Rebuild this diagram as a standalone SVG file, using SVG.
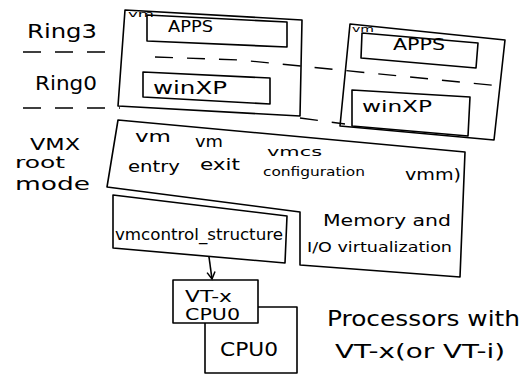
<svg xmlns="http://www.w3.org/2000/svg" width="523" height="378" viewBox="0 0 523 378">
<style>
.box{fill:none;stroke:#000;stroke-width:1.6;stroke-linejoin:round}
.sep{fill:none;stroke:#000;stroke-width:1.4;stroke-dasharray:18 14}
.t{font-family:"DejaVu Sans","Liberation Sans",sans-serif;fill:#000}
.conn{fill:none;stroke:#000;stroke-width:1.6}
</style>
<defs>
<marker id="arr" markerWidth="10" markerHeight="10" refX="8" refY="5" orient="auto" markerUnits="userSpaceOnUse">
<path d="M1,1 L8,5 L1,9" fill="none" stroke="#000" stroke-width="1.5"/>
</marker>
</defs>
<rect width="523" height="378" fill="#fff"/>

<g id="labels">
<text class="t" x="27" y="38" font-size="20" textLength="70" lengthAdjust="spacingAndGlyphs">Ring3</text>
<text class="t" x="35" y="90" font-size="20" textLength="62" lengthAdjust="spacingAndGlyphs">Ring0</text>
<text class="t" x="30" y="150" font-size="16" textLength="50" lengthAdjust="spacingAndGlyphs">VMX</text>
<text class="t" x="15" y="168" font-size="16" textLength="50" lengthAdjust="spacingAndGlyphs">root</text>
<text class="t" x="15" y="190" font-size="18" textLength="75" lengthAdjust="spacingAndGlyphs">mode</text>
</g>

<g id="separators">
<path class="sep" d="M23,52 L105,52"/>
<path class="sep" d="M155,57 L240,60 L500,86"/>
<path class="sep" d="M23,108 L120,108"/>
<path class="sep" d="M300,118 L345,124"/>
</g>

<g id="vm-left">
<path class="box" d="M125,10 L302,20 L300,116 L118,106 Z"/>
<text class="t" x="128" y="17" font-size="9" textLength="26" lengthAdjust="spacingAndGlyphs">vm</text>
</g>
<g id="apps-left">
<path class="box" d="M147,15 L287,22 L287,47 L147,41 Z"/>
<text class="t" x="168" y="32" font-size="15" textLength="45" lengthAdjust="spacingAndGlyphs">APPS</text>
</g>
<g id="winxp-left">
<path class="box" d="M143,72 L270,78 L270,104 L143,97 Z"/>
<text class="t" x="153" y="94" font-size="17" textLength="74" lengthAdjust="spacingAndGlyphs">winXP</text>
</g>

<g id="vm-right">
<path class="box" d="M350,24 L505,40 L494,140 L340,126 Z"/>
<text class="t" x="352" y="32" font-size="9" textLength="22" lengthAdjust="spacingAndGlyphs">vm</text>
</g>
<g id="apps-right">
<path class="box" d="M362,33 L478,43 L476,68 L361,58 Z"/>
<text class="t" x="393" y="50" font-size="15" textLength="52" lengthAdjust="spacingAndGlyphs">APPS</text>
</g>
<g id="winxp-right">
<path class="box" d="M352,90 L470,97 L468,136 L352,126 Z"/>
<text class="t" x="362" y="112" font-size="16" textLength="70" lengthAdjust="spacingAndGlyphs">winXP</text>
</g>

<g id="vmx-root">
<path class="box" d="M118,120 L465,152 L460,277 L300,265 L300,212 L107,187 Z"/>
<text class="t" x="135" y="142" font-size="15" textLength="36" lengthAdjust="spacingAndGlyphs">vm</text>
<text class="t" x="128" y="172" font-size="15" textLength="52" lengthAdjust="spacingAndGlyphs">entry</text>
<text class="t" x="195" y="147" font-size="15" textLength="28" lengthAdjust="spacingAndGlyphs">vm</text>
<text class="t" x="200" y="170" font-size="15" textLength="40" lengthAdjust="spacingAndGlyphs">exit</text>
<text class="t" x="267" y="156" font-size="13" textLength="55" lengthAdjust="spacingAndGlyphs">vmcs</text>
<text class="t" x="263" y="176" font-size="13" textLength="102" lengthAdjust="spacingAndGlyphs">configuration</text>
<text class="t" x="405" y="180" font-size="16" textLength="56" lengthAdjust="spacingAndGlyphs">vmm)</text>
</g>

<g id="memory-io">
<text class="t" x="323" y="226" font-size="16" textLength="128" lengthAdjust="spacingAndGlyphs">Memory and</text>
<text class="t" x="307" y="252" font-size="14" textLength="145" lengthAdjust="spacingAndGlyphs">I/O virtualization</text>
</g>

<g id="vm-control-structure">
<path class="box" d="M113,195 L287,216 L285,263 L113,248 Z"/>
<text class="t" x="115" y="240" font-size="15" textLength="168" lengthAdjust="spacingAndGlyphs">vmcontrol_structure</text>
</g>

<g id="cpu0">
<path class="box" d="M258,307 L297,307 L297,373 L205,373 L205,323"/>
<text class="t" x="220" y="356" font-size="20" textLength="58" lengthAdjust="spacingAndGlyphs">CPU0</text>
</g>
<g id="vtx-cpu0">
<path class="box" d="M173,280 L258,280 L258,323 L173,323 Z"/>
<text class="t" x="185" y="302" font-size="16" textLength="47" lengthAdjust="spacingAndGlyphs">VT-x</text>
<text class="t" x="185" y="320" font-size="16" textLength="55" lengthAdjust="spacingAndGlyphs">CPU0</text>
</g>

<g id="processors-note">
<text class="t" x="327" y="326" font-size="22" textLength="193" lengthAdjust="spacingAndGlyphs">Processors with</text>
<text class="t" x="335" y="358" font-size="19" textLength="170" lengthAdjust="spacingAndGlyphs">VT-x(or VT-i)</text>
</g>

<g id="connectors">
<path class="conn" d="M209,257 L212,279" marker-end="url(#arr)"/>
</g>
</svg>
